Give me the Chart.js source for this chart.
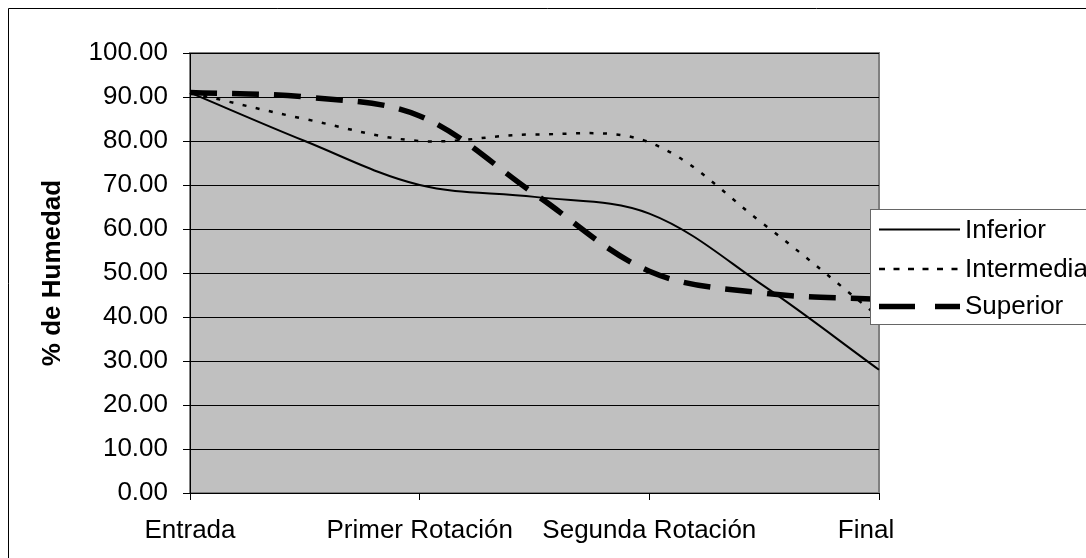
<!DOCTYPE html>
<html>
<head>
<meta charset="utf-8">
<script src="https://cdn.jsdelivr.net/npm/chart.js@4/dist/chart.umd.min.js"></script>
<style>
  html, body { margin: 0; padding: 0; background: #fff; }
  #wrap { width: 1086px; height: 558px; }
</style>
</head>
<body>
<div id="wrap"><canvas id="humedad" width="1086" height="558"></canvas></div>
<script>
// etapas del secado (solo las pares llevan rótulo)
const etapas = ['Entrada', '', 'Primer Rotación', '', 'Segunda Rotación', '', 'Final'];
const inferior = [91, 80, 70, 67.3, 63.5, 47, 28];
const intermedia = [91, 85, 80, 81.5, 79.7, 61, 40];
const superior = [91, 90, 85.7, 68, 50.4, 45.4, 44];

const FONT = '"Liberation Sans", Arial, sans-serif';
Chart.defaults.font.family = FONT;
Chart.defaults.font.size = 26;
Chart.defaults.color = '#000';

// fondo gris del área de trazado y marco exterior
const marco = {
  id: 'marco',
  beforeDraw(chart) {
    const { ctx, chartArea: a } = chart;
    ctx.save();
    ctx.fillStyle = '#fff';
    ctx.fillRect(0, 0, chart.width, chart.height);
    ctx.strokeStyle = '#000';
    ctx.lineWidth = 1;
    ctx.beginPath();
    ctx.moveTo(8.5, chart.height);
    ctx.lineTo(8.5, 8.5);
    ctx.lineTo(chart.width, 8.5);
    ctx.stroke();
    ctx.fillStyle = '#c0c0c0';
    ctx.fillRect(a.left, a.top, a.width, a.height);
    ctx.strokeStyle = '#808080';
    ctx.lineWidth = 2;
    ctx.strokeRect(a.left, a.top, a.width, a.height);
    ctx.restore();

    // el último rótulo del eje x queda algo corrido a la izquierda
    const items = chart.scales.x.getLabelItems();
    const last = items[items.length - 1];
    if (last && !last.shifted) {
      last.options.translation[0] -= 13;
      last.shifted = true;
    }
  }
};

// leyenda encima del gráfico, a la derecha
const leyenda = {
  id: 'leyenda',
  afterDraw(chart) {
    const ctx = chart.ctx;
    const lineY = [229.5, 269, 306.5];
    const textY = [231, 270, 307];
    ctx.save();
    ctx.fillStyle = '#fff';
    ctx.fillRect(870.5, 209.5, 260, 115);
    ctx.strokeStyle = '#666';
    ctx.lineWidth = 1;
    ctx.strokeRect(870.5, 209.5, 260, 115);
    chart.data.datasets.forEach((ds, i) => {
      ctx.beginPath();
      ctx.setLineDash(ds.legendDash || []);
      ctx.lineWidth = ds.borderWidth;
      ctx.strokeStyle = ds.borderColor;
      ctx.moveTo(879, lineY[i]);
      ctx.lineTo(960, lineY[i]);
      ctx.stroke();
      ctx.setLineDash([]);
      ctx.fillStyle = '#000';
      ctx.font = '26px ' + FONT;
      ctx.textBaseline = 'middle';
      ctx.textAlign = 'left';
      ctx.fillText(ds.label, 965, textY[i]);
    });
    ctx.restore();
  }
};

new Chart(document.getElementById('humedad'), {
  type: 'line',
  data: {
    labels: etapas,
    datasets: [
      {
        label: 'Inferior',
        data: inferior,
        borderColor: '#000',
        borderWidth: 2,
        pointRadius: 0,
        tension: 0.35
      },
      {
        label: 'Intermedia',
        data: intermedia,
        borderColor: '#000',
        borderWidth: 2.5,
        borderDash: [4, 9.5],
        legendDash: [6, 8.5],
        pointRadius: 0,
        tension: 0.35
      },
      {
        label: 'Superior',
        data: superior,
        borderColor: '#000',
        borderWidth: 5.5,
        borderDash: [27, 15],
        legendDash: [36, 20],
        pointRadius: 0,
        tension: 0.35
      }
    ]
  },
  options: {
    responsive: false,
    animation: false,
    layout: { padding: { top: 53, right: 207, bottom: 0, left: 0 } },
    plugins: {
      legend: { display: false },
      tooltip: { enabled: false }
    },
    scales: {
      x: {
        type: 'category',
        afterFit(scale) { scale.height = 65; },
        grid: {
          drawOnChartArea: false,
          tickLength: 7,
          tickColor: (c) => (c.index % 2 === 0 ? '#000' : 'rgba(0,0,0,0)')
        },
        border: { color: '#000', width: 1 },
        ticks: {
          autoSkip: false,
          maxRotation: 0,
          padding: 15,
          color: '#000',
          font: { size: 26 }
        }
      },
      y: {
        min: 0,
        max: 100,
        afterFit(scale) { scale.width = 190; },
        grid: { color: '#000', lineWidth: 1, tickLength: 7 },
        border: { color: '#000', width: 1 },
        ticks: {
          stepSize: 10,
          padding: 15,
          color: '#000',
          font: { size: 26 },
          callback: (v) => v.toFixed(2)
        },
        title: {
          display: true,
          text: '% de Humedad',
          color: '#000',
          font: { size: 26, weight: 'bold' },
          padding: { top: 37, bottom: 0 }
        }
      }
    }
  },
  plugins: [marco, leyenda]
});
</script>
</body>
</html>
